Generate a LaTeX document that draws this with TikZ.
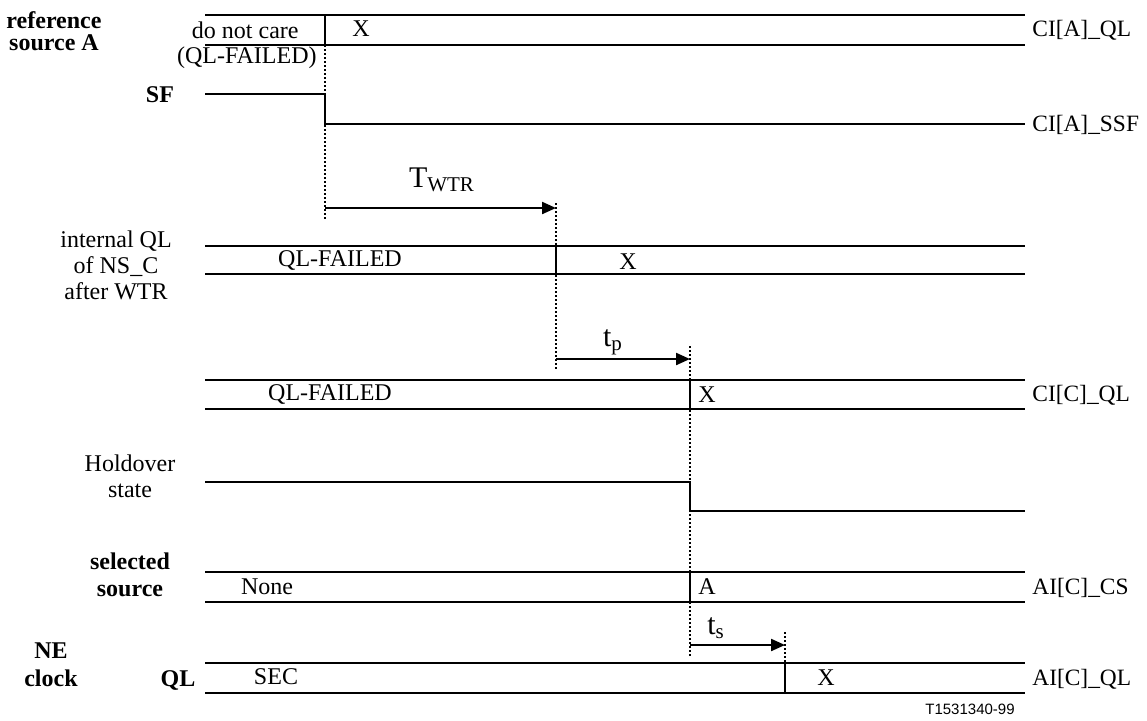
\documentclass[tikz,border=0pt]{standalone}
\usepackage{fontspec}
\setmainfont{Liberation Serif}
\newfontfamily\figsans{Liberation Sans}
\usetikzlibrary{arrows.meta, positioning}

\begin{document}
\begin{tikzpicture}[x=0.5pt, y=-0.5pt, font=\fontsize{12}{14}\selectfont,
  bus/.style={line width=1.1pt},
  lvl/.style={line width=0.7pt},
  guide/.style={line width=0.8pt, dash pattern=on 1pt off 1pt},
  tspan/.style={-{Triangle[length=7pt,width=6pt]}, line width=1.1pt},
  signame/.style={font=\fontsize{12}{14}\selectfont\bfseries, align=center, inner sep=1pt},
  rowname/.style={align=center, inner sep=1pt},
  port/.style={anchor=west, inner sep=1pt, font=\fontsize{11.7}{14}\selectfont},
  val/.style={inner sep=1pt},
  dur/.style={font=\fontsize{15}{17}\selectfont, inner sep=1pt}]
  \useasboundingbox (0,0) rectangle (1147,720);

  % signal names on the left
  \node[signame] (refA) at (54,31) {reference\\[-3pt]source A};
  \node[signame] (sfname) at (160,95) {SF};
  \node[rowname] (intname) at (116,265) {internal QL\\[-1pt]of NS\_C\\[-1pt]after WTR};
  \node[rowname] (holdname) at (130,476) {Holdover\\[-1pt]state};
  \node[signame] (selname) at (130,575) {selected\\[-0.5pt]source};
  \node[signame] (nename) at (51,665) {NE\\[0pt]clock};
  \node[signame] (qlname) at (178,680) {QL};

  % CI[A]_QL
  \draw[bus] (205,15) -- (1025,15) (205,45) -- (1025,45) (325,15) -- (325,45);
  \node[val, anchor=east] (dnc) at (301,30) {do not care};
  \node[val, anchor=east] (qlf0) at (319,58) {(QL-FAILED)};
  \node[val] (xa) at (361,29) {X};
  \node[port] (ciaql) at (1030,30) {CI[A]\_QL};

  % CI[A]_SSF
  \draw[lvl] (205,94) -- (325,94) -- (325,124) -- (1025,124);
  \node[port] (ciassf) at (1030,125) {CI[A]\_SSF};

  % internal QL of NS_C
  \draw[bus] (205,246) -- (1025,246) (205,274) -- (1025,274) (556,246) -- (556,274);
  \node[val] (qlf1) at (340,260) {QL-FAILED};
  \node[val] (xint) at (628,262) {X};

  % CI[C]_QL
  \draw[bus] (205,380) -- (1025,380) (205,409) -- (1025,409) (690,380) -- (690,409);
  \node[val] (qlf2) at (330,394) {QL-FAILED};
  \node[val] (xc) at (707,395) {X};
  \node[port] (cicql) at (1030,395) {CI[C]\_QL};

  % holdover state
  \draw[lvl] (205,482) -- (690,482) -- (690,511) -- (1025,511);

  % AI[C]_CS
  \draw[bus] (205,572) -- (1025,572) (205,602) -- (1025,602) (690,572) -- (690,602);
  \node[val] (none) at (267,587) {None};
  \node[val] (asel) at (707,587) {A};
  \node[port] (aics) at (1030,588) {AI[C]\_CS};

  % AI[C]_QL
  \draw[bus] (205,663) -- (1025,663) (205,693) -- (1025,693) (785,663) -- (785,693);
  \node[val] (sec) at (276,677) {SEC};
  \node[val] (xne) at (826,678) {X};
  \node[port] (aiql) at (1030,679) {AI[C]\_QL};

  % event guides and delays
  \coordinate (ev0) at (325,208);
  \coordinate (ev1) at (556,208);
  \coordinate (ev1p) at (556,359);
  \coordinate (ev2) at (690,359);
  \coordinate (ev2s) at (690,645);
  \coordinate (ev3) at (785,645);
  \draw[guide] (325,45) -- (325,220);
  \draw[guide] (556,203) -- (556,370);
  \draw[guide] (690,346) -- (690,656);
  \draw[guide] (785,632) -- (785,663);
  \draw[tspan] (ev0) -- (ev1);
  \draw[tspan] (ev1p) -- (ev2);
  \draw[tspan] (ev2s) -- (ev3);
  \node[dur] (twtr) at (442,180) {T\textsubscript{WTR}};
  \node[dur] (tp) at (613,342) {t\textsubscript{p}};
  \node[dur] (ts) at (716,628) {t\textsubscript{s}};

  \node[font=\figsans\fontsize{7.5}{9}\selectfont, inner sep=1pt] (fig) at (970,709) {T1531340-99};
\end{tikzpicture}
\end{document}
